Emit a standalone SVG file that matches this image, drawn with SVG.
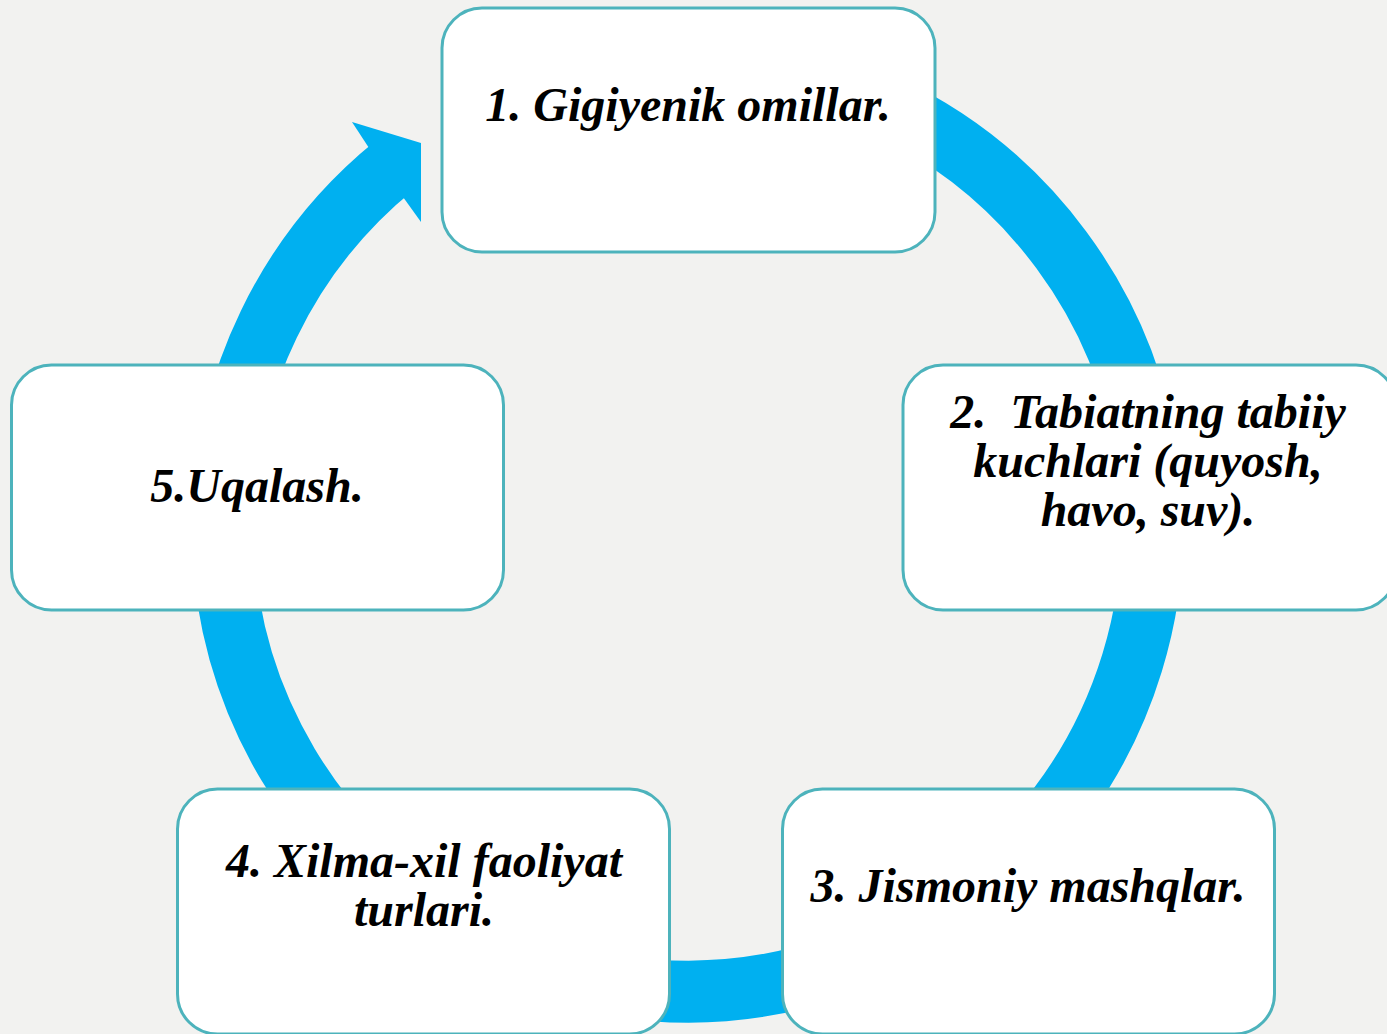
<svg xmlns="http://www.w3.org/2000/svg" width="1387" height="1034" viewBox="0 0 1387 1034">
<style>
.bg{fill:#F2F2F0}
.box{fill:#FFFFFF;stroke:#4DB3BC;stroke-width:3}
.ring{fill:none;stroke:#00B0F0;stroke-width:62}
.head{fill:#00B0F0}
.t{font-family:"Liberation Serif","Times New Roman",serif;font-weight:bold;font-style:italic;font-size:48px;fill:#000;text-anchor:middle;white-space:pre}
</style>
<rect class="bg" x="0" y="0" width="1387" height="1034"/>
<g id="connectors">
<path class="ring" d="M 687.5 61.5 A 465 465 0 1 1 394.9 165.1"/>
<polygon class="head" points="352,122 421,143 421,222 403,197 369,148"/>
</g>
<g id="node1">
<rect class="box" x="442" y="8" width="493" height="244" rx="40"/>
<text class="t" x="688" y="121">1. Gigiyenik omillar.</text>
</g>
<g id="node2">
<rect class="box" x="903" y="365" width="493" height="245" rx="40"/>
<text class="t" x="1148" y="428" xml:space="preserve">2.  Tabiatning tabiiy</text>
<text class="t" x="1148" y="477">kuchlari (quyosh,</text>
<text class="t" x="1148" y="526">havo, suv).</text>
</g>
<g id="node3">
<rect class="box" x="782.5" y="789" width="492" height="245" rx="40"/>
<text class="t" x="1028" y="902">3. Jismoniy mashqlar.</text>
</g>
<g id="node4">
<rect class="box" x="177.5" y="789" width="492" height="245" rx="40"/>
<text class="t" x="424" y="877">4. Xilma-xil faoliyat</text>
<text class="t" x="424" y="926">turlari.</text>
</g>
<g id="node5">
<rect class="box" x="11.5" y="365" width="492" height="245" rx="40"/>
<text class="t" x="257" y="502">5.Uqalash.</text>
</g>
</svg>
